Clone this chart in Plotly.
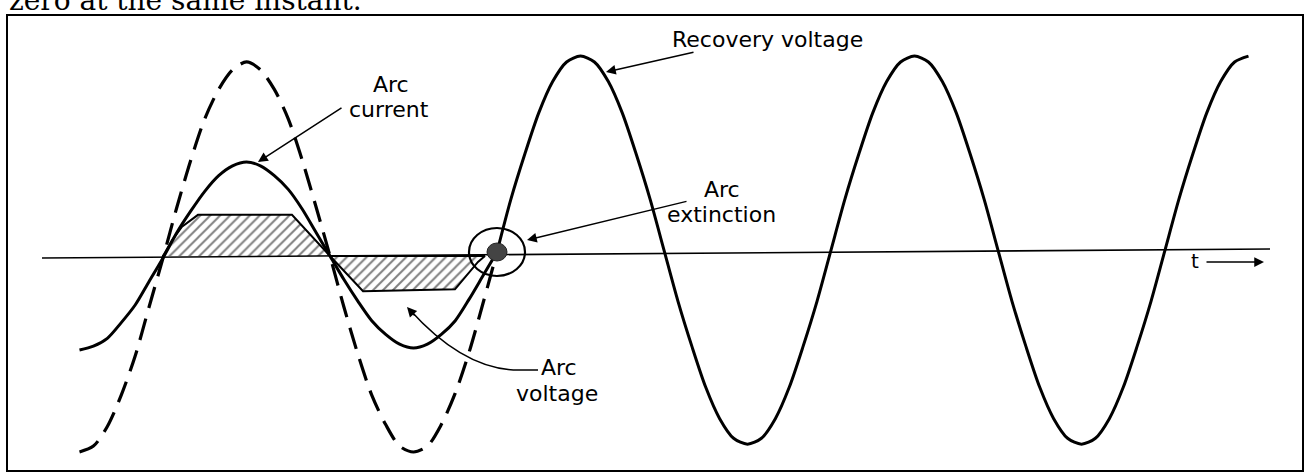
import plotly.graph_objects as go

W, H = 1307, 475

# ---------------- data (electrical angle in degrees, values in per-unit) ----------------
angle_deg = [-90, -75, -60, -45, -30, -15, 0, 15, 30, 45, 60, 75, 90, 105, 120, 135, 150, 165,
             180, 195, 210, 225, 240, 255, 270, 285, 300, 315, 330, 345, 360]
arc_current_pu = [-0.48, -0.46, -0.42, -0.34, -0.25, -0.13, -0.01, 0.12, 0.23, 0.33, 0.41, 0.46,
                  0.48, 0.46, 0.41, 0.34, 0.24, 0.12, 0.0, -0.12, -0.23, -0.33, -0.40, -0.45,
                  -0.47, -0.45, -0.40, -0.33, -0.22, -0.10, 0.02]
system_voltage_pu = [-1.0, -0.97, -0.87, -0.71, -0.51, -0.26, -0.01, 0.25, 0.49, 0.70, 0.85, 0.95,
                     0.99, 0.95, 0.85, 0.70, 0.49, 0.25, 0.0, -0.26, -0.50, -0.71, -0.86, -0.97,
                     -1.0, -0.97, -0.86, -0.70, -0.49, -0.24, 0.02]

recovery_angle_deg = [360, 375, 390, 405, 420, 435, 450, 465, 480, 495, 510, 525, 540, 555, 570,
                      585, 600, 615, 630, 645, 660, 675, 690, 705, 720, 735, 750, 765, 780, 795,
                      810, 825, 840, 855, 870, 885, 900, 915, 930, 945, 960, 975, 990, 1005,
                      1020, 1035, 1050, 1065, 1080, 1095, 1110, 1125, 1140, 1155, 1170]
recovery_voltage_pu = [0.02, 0.29, 0.52, 0.73, 0.89, 0.99, 1.02, 0.99, 0.89, 0.73, 0.52, 0.29,
                       0.03, -0.23, -0.46, -0.67, -0.83, -0.93, -0.96, -0.93, -0.83, -0.67, -0.46,
                       -0.23, 0.03, 0.29, 0.52, 0.73, 0.89, 0.99, 1.02, 0.99, 0.89, 0.73, 0.52,
                       0.29, 0.03, -0.23, -0.46, -0.67, -0.83, -0.93, -0.96, -0.93, -0.83, -0.67,
                       -0.46, -0.23, 0.03, 0.29, 0.52, 0.73, 0.89, 0.99, 1.02]

arc_v_pos_angle = [0, 9.7, 20.5, 37.7, 139, 180]
arc_v_pos_pu = [0, 0.08, 0.15, 0.21, 0.21, 0]
arc_v_neg_angle = [180, 215.6, 314.7, 339.5, 347, 180]
arc_v_neg_pu = [0, -0.18, -0.17, -0.03, 0, 0]

labels = {
    "recovery": "Recovery voltage",
    "arc": "Arc",
    "current": "current",
    "extinction": "extinction",
    "voltage": "voltage",
    "t": "t",
    "top": "zero at the same instant.",
}

# ---------------- scale set-up (pixel placement of the drawing) ----------------
X0PX = 163.0
PX_PER_DEG = 167.0 / 180.0
Y0PX = 256.0
PX_PER_PU = 196.0


def P(x, y):
    """pixel -> data coordinates (for callouts only)"""
    return (x - X0PX) / PX_PER_DEG, (Y0PX - y) / PX_PER_PU


xr = [P(0, 0)[0], P(W, 0)[0]]
yr = [P(0, H)[1], P(0, 0)[1]]

FONT = "DejaVu Sans"
fig = go.Figure()

hatch = dict(shape="/", size=7, solidity=0.28, fgcolor="black", bgcolor="white")
fig.add_trace(go.Scatter(x=arc_v_pos_angle, y=arc_v_pos_pu, mode="lines", fill="toself",
                         fillpattern=hatch, fillcolor="white",
                         line=dict(color="black", width=2), hoverinfo="skip"))
fig.add_trace(go.Scatter(x=arc_v_neg_angle, y=arc_v_neg_pu, mode="lines", fill="toself",
                         fillpattern=hatch, fillcolor="white",
                         line=dict(color="black", width=2), hoverinfo="skip"))

fig.add_trace(go.Scatter(x=angle_deg, y=system_voltage_pu, mode="lines",
                         line=dict(color="black", width=3.2, dash="22px,11px",
                                   shape="spline", smoothing=0.8), hoverinfo="skip"))
fig.add_trace(go.Scatter(x=angle_deg, y=arc_current_pu, mode="lines",
                         line=dict(color="black", width=3, shape="spline", smoothing=0.8),
                         hoverinfo="skip"))
fig.add_trace(go.Scatter(x=recovery_angle_deg, y=recovery_voltage_pu, mode="lines",
                         line=dict(color="black", width=3, shape="spline", smoothing=0.8),
                         hoverinfo="skip"))

shapes = []
# frame
shapes.append(dict(type="rect", xref="paper", yref="paper",
                   x0=7 / W, x1=1303 / W, y0=1 - 471 / H, y1=1 - 15 / H,
                   line=dict(color="black", width=2)))
# time axis (slightly skewed as in the scan)
shapes.append(dict(type="line", xref="paper", yref="paper",
                   x0=42 / W, y0=1 - 258 / H, x1=1270 / W, y1=1 - 249 / H,
                   line=dict(color="black", width=1.6)))
# extinction circle + dot
a0, b0 = P(469, 276)
a1, b1 = P(525, 228)
shapes.append(dict(type="circle", xref="x", yref="y", x0=a0, y0=b0, x1=a1, y1=b1,
                   line=dict(color="black", width=2.2)))
a0, b0 = P(487, 261)
a1, b1 = P(507, 243)
shapes.append(dict(type="circle", xref="x", yref="y", x0=a0, y0=b0, x1=a1, y1=b1,
                   fillcolor="#444444", line=dict(color="#222", width=1)))
# arc-voltage curved leader
p1 = P(538, 370)
p2 = P(522, 370)
c = P(466, 372)
p3 = P(410, 310)
path = "M {:.3f},{:.4f} L {:.3f},{:.4f} Q {:.3f},{:.4f} {:.3f},{:.4f}".format(
    p1[0], p1[1], p2[0], p2[1], c[0], c[1], p3[0], p3[1])
shapes.append(dict(type="path", xref="x", yref="y", path=path,
                   line=dict(color="black", width=1.5)))

annotations = []


def text(x, y, s, size=22, family=FONT, xanchor="center"):
    dx, dy = P(x, y)
    annotations.append(dict(x=dx, y=dy, xref="x", yref="y", text=s, showarrow=False,
                            xanchor=xanchor, yanchor="middle",
                            font=dict(family=family, size=size, color="black")))


def arrow(hx, hy, tx, ty, head=2, size=1.3):
    hx_, hy_ = P(hx, hy)
    tx_, ty_ = P(tx, ty)
    annotations.append(dict(x=hx_, y=hy_, ax=tx_, ay=ty_, xref="x", yref="y",
                            axref="x", ayref="y", text="", showarrow=True,
                            arrowhead=head, arrowsize=size, arrowwidth=1.5,
                            arrowcolor="black", standoff=0, startstandoff=0))


text(767, 39, labels["recovery"])
text(391, 84, labels["arc"])
text(389, 109, labels["current"])
text(722, 189, labels["arc"])
text(721, 214, labels["extinction"])
text(559, 367, labels["arc"])
text(557, 393, labels["voltage"])
text(1195, 261, labels["t"], size=20)

arrow(606, 72, 695, 52)
arrow(258, 162, 343, 107)
arrow(527, 240, 688, 201)
arrow(407, 307, 416, 317)
arrow(1264, 262, 1205, 262)

annotations.append(dict(x=7 / W, y=1 - 0 / H, xref="paper", yref="paper",
                        text=labels["top"], showarrow=False, xanchor="left", yanchor="middle",
                        font=dict(family="DejaVu Serif", size=28, color="black")))

fig.update_layout(
    width=W, height=H, margin=dict(l=0, r=0, t=0, b=0),
    paper_bgcolor="white", plot_bgcolor="white", showlegend=False,
    xaxis=dict(range=xr, visible=False, showgrid=False, zeroline=False, fixedrange=True),
    yaxis=dict(range=yr, visible=False, showgrid=False, zeroline=False, fixedrange=True),
    shapes=shapes, annotations=annotations,
)

fig.write_html("out.html", config={"displayModeBar": False},
               post_script="document.body.style.margin='0';document.body.style.overflow='hidden';")
